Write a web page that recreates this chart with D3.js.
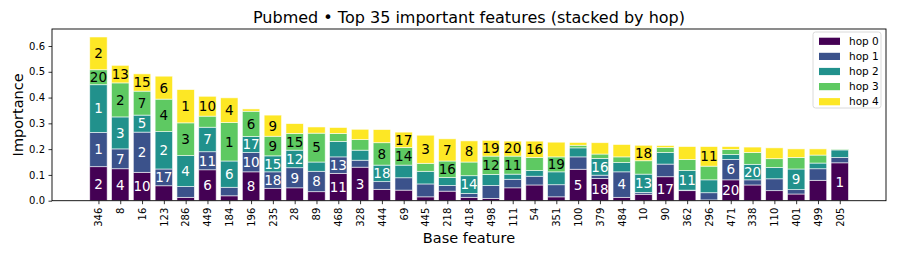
<!DOCTYPE html>
<html>
<head>
<meta charset="utf-8">
<script src="https://cdn.jsdelivr.net/npm/d3@7/dist/d3.min.js"></script>
<style>
  html, body { margin: 0; padding: 0; background: #fff; }
  svg { display: block; font-family: 'DejaVu Sans', sans-serif; }
</style>
</head>
<body>
<svg id="chart" width="897" height="256"></svg>
<script>
// ── data ──────────────────────────────────────────────────
const features = ['346','8','16','123','286','449','184','196','235','28','89','468','328','444','69','445','218','418','498','111','54','351','100','379','484','10','90','362','296','471','338','110','401','499','205'];
const hops = ['hop 0', 'hop 1', 'hop 2', 'hop 3', 'hop 4'];

const hop0 = [0.132,0.124,0.110,0.058,0.013,0.120,0.019,0.112,0.048,0.050,0.035,0.106,0.130,0.044,0.041,0.015,0.037,0.013,0.009,0.050,0.061,0.015,0.122,0.086,0.013,0.025,0.093,0.039,0.003,0.081,0.061,0.039,0.026,0.079,0.147];
const hop1 = [0.133,0.077,0.156,0.065,0.042,0.070,0.033,0.075,0.064,0.078,0.079,0.064,0.027,0.030,0.048,0.050,0.022,0.015,0.050,0.033,0.034,0.047,0.048,0.013,0.099,0.007,0.049,0.002,0.028,0.079,0.020,0.046,0.017,0.045,0.021];
const hop2 = [0.185,0.124,0.066,0.145,0.120,0.095,0.102,0.062,0.062,0.068,0.036,0.060,0.039,0.064,0.049,0.049,0.031,0.069,0.043,0.020,0.022,0.050,0.035,0.065,0.036,0.071,0.045,0.076,0.050,0.019,0.060,0.044,0.080,0.022,0.029];
const hop3 = [0.058,0.132,0.093,0.126,0.127,0.043,0.149,0.098,0.076,0.065,0.112,0.031,0.041,0.087,0.068,0.031,0.064,0.053,0.071,0.070,0.051,0.058,0.010,0.017,0.022,0.052,0.019,0.043,0.053,0.020,0.046,0.034,0.045,0.031,0.003];
const hop4 = [0.127,0.068,0.067,0.089,0.129,0.077,0.096,0.009,0.082,0.038,0.024,0.023,0.040,0.051,0.060,0.109,0.086,0.082,0.061,0.058,0.063,0.057,0.011,0.044,0.048,0.060,0.008,0.050,0.076,0.011,0.021,0.042,0.033,0.024,0.000];

// rank labels printed inside segments (null = none)
const lab0 = ['2','4','10',null,null,'6',null,'8',null,null,null,'11','3',null,null,null,null,null,null,null,null,null,'5','18',null,null,'17',null,null,'20',null,null,null,null,'1'];
const lab1 = ['1','7','2','17',null,'11',null,'10','18','9','8','13',null,null,null,null,null,null,null,null,null,null,null,null,'4',null,null,null,null,'6',null,null,null,null,null];
const lab2 = ['1','3','5','2','4','7','6','17','15','12',null,null,null,'18',null,null,null,'14',null,null,null,null,null,'16',null,'13',null,'11',null,null,'20',null,'9',null,null];
const lab3 = ['20','2','7','4','3',null,'1','6','9','15','5',null,null,'8','14',null,'16',null,'12','11',null,'19',null,null,null,null,null,null,null,null,null,null,null,null,null];
const lab4 = ['2','13','15','6','1','10','4',null,'9',null,null,null,null,null,'17','3','7','8','19','20','16',null,null,null,null,'18',null,null,'11',null,null,null,null,null,null];

const yTicks = [0.0, 0.1, 0.2, 0.3, 0.4, 0.5, 0.6];

// ── layout ────────────────────────────────────────────────
const COLORS = ['#440154', '#3b528b', '#21918c', '#5ec962', '#fde725'];
const TEXT_COL = ['#fff', '#fff', '#fff', '#000', '#000'];
const L = 52, R = 886, T = 29, B = 200.7;

const series = [hop0, hop1, hop2, hop3, hop4];
const labels = [lab0, lab1, lab2, lab3, lab4];

const rows = features.map((f, i) => {
  const r = { feature: f, i };
  hops.forEach((h, k) => { r[h] = series[k][i]; });
  return r;
});
const stacked = d3.stack().keys(hops)(rows);

const x = d3.scaleLinear().domain([-2.13, 36.12]).range([L, R]);
const y = d3.scaleLinear().domain([0, 0.666]).range([B, T]);
const bw = x(0.8) - x(0);

const svg = d3.select('#chart');

// bars
const layer = svg.append('g').selectAll('g').data(stacked).join('g')
  .attr('fill', (d, k) => COLORS[k]);

layer.selectAll('rect').data(d => d).join('rect')
  .attr('x', d => x(d.data.i) - bw / 2)
  .attr('width', bw)
  .attr('y', d => y(d[1]))
  .attr('height', d => Math.max(0, y(d[0]) - y(d[1])))
  .attr('stroke', '#fff')
  .attr('stroke-width', 0.8)
  .attr('stroke-opacity', 0.7);

// segment labels
stacked.forEach((s, k) => {
  svg.append('g').selectAll('text')
    .data(s.filter(d => labels[k][d.data.i] != null)).join('text')
    .attr('x', d => x(d.data.i))
    .attr('y', d => (y(d[0]) + y(d[1])) / 2)
    .attr('dy', '0.36em')
    .attr('text-anchor', 'middle')
    .attr('font-size', 13.5)
    .attr('fill', TEXT_COL[k])
    .text(d => labels[k][d.data.i]);
});

// axes
const yAxis = d3.axisLeft(y).tickValues(yTicks).tickFormat(d3.format('.1f'))
  .tickSize(3.5).tickPadding(3.5);
const gy = svg.append('g').attr('transform', `translate(${L},0)`).call(yAxis);
gy.select('.domain').remove();
gy.selectAll('text').attr('font-size', 10).attr('fill', '#000').attr('font-family', 'DejaVu Sans');
gy.selectAll('line').attr('stroke', '#000').attr('stroke-width', 0.8);

const xAxis = d3.axisBottom(x).tickValues(d3.range(features.length))
  .tickFormat(i => features[i]).tickSize(3.5).tickPadding(3.5);
const gx = svg.append('g').attr('transform', `translate(0,${B})`).call(xAxis);
gx.select('.domain').remove();
gx.selectAll('line').attr('stroke', '#000').attr('stroke-width', 0.8);
gx.selectAll('text')
  .attr('font-size', 10).attr('fill', '#000').attr('font-family', 'DejaVu Sans')
  .attr('transform', 'rotate(-90)')
  .attr('text-anchor', 'end')
  .attr('x', -7).attr('y', 0).attr('dy', '0.33em');

// frame
svg.append('rect')
  .attr('x', L).attr('y', T).attr('width', R - L).attr('height', B - T)
  .attr('fill', 'none').attr('stroke', '#000').attr('stroke-width', 0.9);

// titles
svg.append('text').attr('x', (L + R) / 2).attr('y', 23)
  .attr('text-anchor', 'middle').attr('font-size', 16).attr('fill', '#000')
  .text('Pubmed \u2022 Top 35 important features (stacked by hop)');
svg.append('text').attr('x', (L + R) / 2).attr('y', 243)
  .attr('text-anchor', 'middle').attr('font-size', 14.5).attr('fill', '#000')
  .text('Base feature');
svg.append('text')
  .attr('transform', `translate(23,${(T + B) / 2}) rotate(-90)`)
  .attr('text-anchor', 'middle').attr('font-size', 14.5).attr('fill', '#000')
  .text('Importance');

// legend
const leg = svg.append('g').attr('transform', 'translate(813,32)');
leg.append('rect').attr('width', 68).attr('height', 76).attr('rx', 2.5)
  .attr('fill', '#fff').attr('fill-opacity', 0.8)
  .attr('stroke', '#d0d0d0').attr('stroke-width', 0.8);
hops.forEach((h, k) => {
  const g = leg.append('g').attr('transform', `translate(6,${9.3 + k * 15.1})`);
  g.append('rect').attr('x', 0).attr('y', -3.6).attr('width', 21).attr('height', 7.2)
    .attr('fill', COLORS[k]);
  g.append('text').attr('x', 30).attr('dy', '0.36em').attr('font-size', 10.5)
    .attr('fill', '#000').text(h);
});
</script>
</body>
</html>
